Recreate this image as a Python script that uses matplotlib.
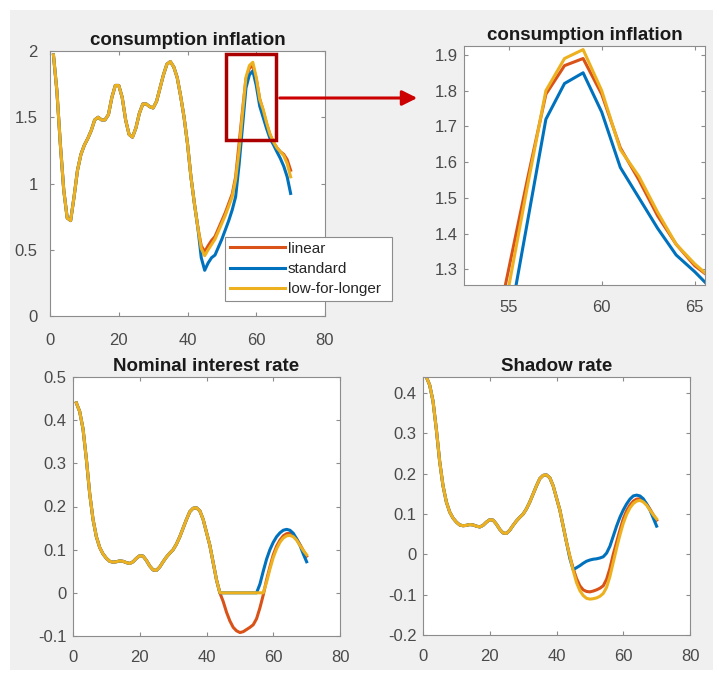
import matplotlib
matplotlib.use("Agg")
import matplotlib.pyplot as plt
from matplotlib.patches import Rectangle, FancyArrowPatch
import numpy as np

plt.rcParams['font.family'] = ['Liberation Sans', 'DejaVu Sans']

# ---------------- data ----------------
t = list(range(1, 71))

infl_common = [1.97, 1.70, 1.30, 0.95, 0.74, 0.72, 0.90, 1.10, 1.22, 1.29,
               1.34, 1.40, 1.48, 1.50, 1.48, 1.48, 1.52, 1.65, 1.74, 1.74,
               1.65, 1.48, 1.37, 1.35, 1.42, 1.53, 1.60, 1.60, 1.58, 1.57,
               1.62, 1.72, 1.82, 1.90, 1.92, 1.88, 1.80, 1.66, 1.50, 1.30,
               1.05, 0.85, 0.67]
infl_linear_tail = [0.53, 0.485, 0.53, 0.57, 0.60, 0.66, 0.72, 0.78, 0.85, 0.92,
                    1.05, 1.30, 1.55, 1.79, 1.87, 1.89, 1.79, 1.64, 1.55, 1.45,
                    1.37, 1.31, 1.27, 1.24, 1.22, 1.18, 1.10]
infl_standard_tail = [0.44, 0.345, 0.40, 0.44, 0.46, 0.52, 0.58, 0.65, 0.72, 0.80,
                      0.90, 1.14, 1.43, 1.72, 1.82, 1.85, 1.74, 1.585, 1.50, 1.415,
                      1.34, 1.293, 1.24, 1.19, 1.13, 1.05, 0.925]
infl_lfl_tail = [0.51, 0.455, 0.50, 0.54, 0.58, 0.64, 0.70, 0.76, 0.83, 0.90,
                 1.03, 1.25, 1.53, 1.80, 1.89, 1.915, 1.80, 1.635, 1.56, 1.46,
                 1.37, 1.315, 1.27, 1.24, 1.21, 1.15, 1.05]

rate_common = [0.44, 0.42, 0.38, 0.31, 0.23, 0.17, 0.13, 0.105, 0.09, 0.08,
               0.073, 0.071, 0.072, 0.074, 0.073, 0.070, 0.068, 0.072, 0.080, 0.086,
               0.085, 0.075, 0.062, 0.053, 0.052, 0.060, 0.072, 0.083, 0.092, 0.100,
               0.113, 0.130, 0.150, 0.170, 0.188, 0.196, 0.197, 0.190, 0.170, 0.140,
               0.110, 0.070, 0.030]
nom_linear_tail = [0.0, -0.02, -0.045, -0.065, -0.08, -0.088, -0.092, -0.09, -0.085, -0.08,
                   -0.074, -0.06, -0.035, -0.005, 0.03, 0.06, 0.088, 0.108, 0.122, 0.132,
                   0.137, 0.138, 0.134, 0.125, 0.112, 0.098, 0.085]
nom_standard_tail = [0.0, 0.0, 0.0, 0.0, 0.0, 0.0, 0.0, 0.0, 0.0, 0.0,
                     0.0, 0.0, 0.02, 0.05, 0.078, 0.10, 0.117, 0.13, 0.139, 0.145,
                     0.147, 0.145, 0.138, 0.125, 0.11, 0.09, 0.072]
nom_lfl_tail = [0.0, 0.0, 0.0, 0.0, 0.0, 0.0, 0.0, 0.0, 0.0, 0.0,
                0.0, 0.0, 0.0, 0.0, 0.025, 0.055, 0.082, 0.102, 0.117, 0.127,
                0.132, 0.133, 0.13, 0.122, 0.11, 0.098, 0.088]

sh_linear_tail = [-0.005, -0.035, -0.06, -0.078, -0.088, -0.092, -0.093, -0.091, -0.088, -0.084,
                  -0.078, -0.062, -0.035, 0.0, 0.03, 0.06, 0.088, 0.108, 0.122, 0.132,
                  0.137, 0.138, 0.134, 0.125, 0.112, 0.098, 0.085]
sh_standard_tail = [-0.01, -0.038, -0.033, -0.028, -0.022, -0.017, -0.014, -0.012, -0.011, -0.009,
                    -0.006, 0.003, 0.02, 0.045, 0.07, 0.092, 0.11, 0.125, 0.137, 0.145,
                    0.147, 0.145, 0.138, 0.125, 0.11, 0.09, 0.07]
sh_lfl_tail = [-0.005, -0.04, -0.07, -0.09, -0.102, -0.109, -0.111, -0.11, -0.108, -0.104,
               -0.097, -0.082, -0.055, -0.02, 0.015, 0.048, 0.077, 0.099, 0.115, 0.126,
               0.132, 0.134, 0.13, 0.122, 0.11, 0.098, 0.088]

series_names = ['linear', 'standard', 'low-for-longer']
colors = ['#D95319', '#0072BD', '#EDB120']

infl = [infl_common + infl_linear_tail, infl_common + infl_standard_tail, infl_common + infl_lfl_tail]
nom = [rate_common + nom_linear_tail, rate_common + nom_standard_tail, rate_common + nom_lfl_tail]
shadow = [rate_common + sh_linear_tail, rate_common + sh_standard_tail, rate_common + sh_lfl_tail]

# ---------------- figure ----------------
W, H = 719, 680
fig = plt.figure(figsize=(W / 100, H / 100), dpi=100)
fig.patch.set_facecolor('white')
fig.patches.append(Rectangle((10 / W, 10 / H), 703 / W, 660 / H, transform=fig.transFigure,
                             facecolor='#f0f0f0', edgecolor='none', zorder=-10))

def fx(px):
    return px / W

def make_ax(x0, y0, x1, y1, ypad=4.5, xpad=10):
    ax = fig.add_axes([fx(x0), 1 - y1 / H, (x1 - x0) / W, (y1 - y0) / H])
    ax.set_facecolor('white')
    for s in ax.spines.values():
        s.set_color('#8c8c8c')
        s.set_linewidth(0.8)
    ax.tick_params(direction='in', top=True, right=True, colors='#8c8c8c',
                   labelcolor='#4a4a4a', labelsize=12, length=3, width=0.8)
    ax.tick_params(axis='y', pad=ypad)
    ax.tick_params(axis='x', pad=xpad)
    return ax

def title(ax, s):
    ax.set_title(s, fontsize=13.5, fontweight='bold', color='#1a1a1a', pad=4)

lw = 2.2

# top-left
ax1 = make_ax(50, 51, 325, 316, ypad=9, xpad=12)
lines = []
for y, c, n in zip(infl, colors, series_names):
    l, = ax1.plot(t, y, color=c, lw=lw, label=n)
    lines.append(l)
ax1.set_xlim(0, 80)
ax1.set_ylim(0, 2)
ax1.set_xticks([0, 20, 40, 60, 80])
ax1.set_yticks([0, 0.5, 1, 1.5, 2])
ax1.set_yticklabels(['0', '0.5', '1', '1.5', '2'])
title(ax1, 'consumption inflation')
rx0, rx1, ry0, ry1 = 51.3, 65.7, 1.33, 1.98
ax1.add_patch(Rectangle((rx0, ry0), rx1 - rx0, ry1 - ry0, fill=False,
                        edgecolor='#aa0000', lw=2.5, zorder=5))

leg = fig.legend(handles=lines, loc='upper left',
                 bbox_to_anchor=(fx(225), 1 - 304 / H, fx(392) - fx(225), 67 / H),
                 mode='expand', fontsize=11, frameon=True, fancybox=False,
                 edgecolor='#8c8c8c', framealpha=1, handlelength=3.6,
                 borderpad=0.3, labelspacing=0.42, handletextpad=0.2, borderaxespad=0)
leg.get_frame().set_linewidth(0.8)
for txt in leg.get_texts():
    txt.set_color('#262626')

# arrow
arr = FancyArrowPatch((fx(277), 1 - 98 / H), (fx(420), 1 - 98 / H), transform=fig.transFigure,
                      arrowstyle='-|>,head_length=6,head_width=3', color='#cc0000', lw=2.2,
                      mutation_scale=1.5)
fig.patches.append(arr)

# top-right zoom
ax2 = make_ax(464, 46, 705, 285, xpad=11)
for y, c in zip(infl, colors):
    ax2.plot(t, y, color=c, lw=lw)
ax2.set_xlim(52.6, 65.55)
ax2.set_ylim(1.256, 1.925)
ax2.set_xticks([55, 60, 65])
ax2.set_yticks([1.3, 1.4, 1.5, 1.6, 1.7, 1.8, 1.9])
title(ax2, 'consumption inflation')

# bottom-left
ax3 = make_ax(73, 377, 340, 636)
for y, c in zip(nom, colors):
    ax3.plot(t, y, color=c, lw=lw)
ax3.set_xlim(0, 80)
ax3.set_ylim(-0.1, 0.5)
ax3.set_xticks([0, 20, 40, 60, 80])
ax3.set_yticks([-0.1, 0, 0.1, 0.2, 0.3, 0.4, 0.5])
ax3.set_yticklabels(['-0.1', '0', '0.1', '0.2', '0.3', '0.4', '0.5'])
title(ax3, 'Nominal interest rate')

# bottom-right
ax4 = make_ax(423, 377, 690, 635)
for y, c in zip(shadow, colors):
    ax4.plot(t, y, color=c, lw=lw)
ax4.set_xlim(0, 80)
ax4.set_ylim(-0.2, 0.44)
ax4.set_xticks([0, 20, 40, 60, 80])
ax4.set_yticks([-0.2, -0.1, 0, 0.1, 0.2, 0.3, 0.4])
ax4.set_yticklabels(['-0.2', '-0.1', '0', '0.1', '0.2', '0.3', '0.4'])
title(ax4, 'Shadow rate')

fig.savefig('out.png', dpi=100, facecolor=fig.get_facecolor())
